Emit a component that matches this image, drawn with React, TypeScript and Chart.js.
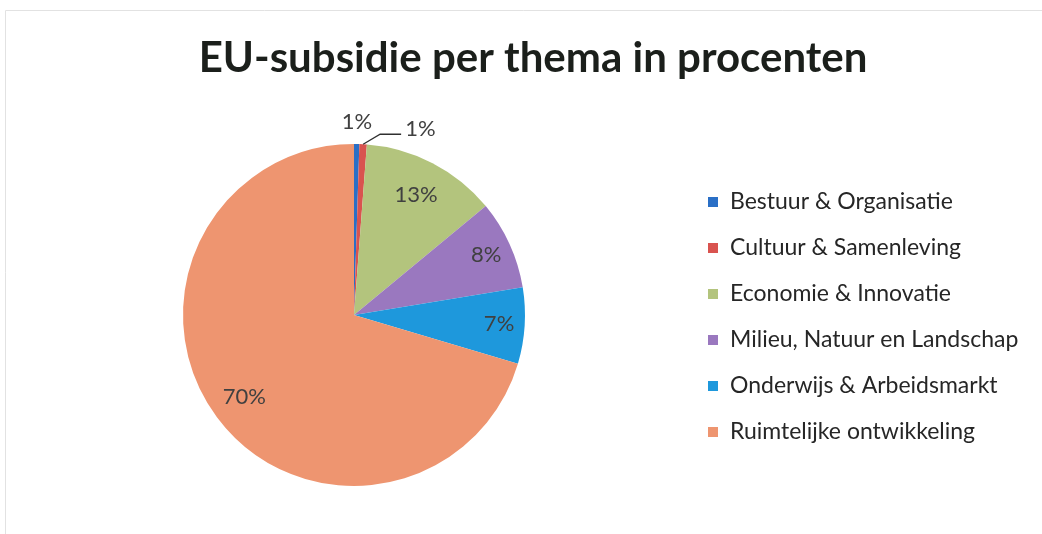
import React, { useEffect, useRef } from "react";
import { Chart, registerables } from "chart.js";

Chart.register(...registerables);

const TITLE = "EU-subsidie per thema in procenten";
const categories = [
  "Bestuur & Organisatie",
  "Cultuur & Samenleving",
  "Economie & Innovatie",
  "Milieu, Natuur en Landschap",
  "Onderwijs & Arbeidsmarkt",
  "Ruimtelijke ontwikkeling",
];
const values = [0.5, 0.7, 12.8, 8.4, 7.2, 70.4];
const colors = ["#2A6FC6", "#D9534F", "#B3C47D", "#9A78BF", "#1E98DC", "#EE9570"];

const FONT = "Lato, 'Open Sans', sans-serif";
// label placement style: 'above' = outside above arc, 'leader' = outside with leader line, number = inside radius factor
const placement: (string | number)[] = ["above", "leader", 0.79, 0.85, 0.85, 0.8];

const decorPlugin = {
  id: "decor",
  beforeDraw(chart: any) {
    const ctx = chart.ctx;
    ctx.save();
    ctx.strokeStyle = "#e2e2e2";
    ctx.lineWidth = 1;
    ctx.beginPath();
    ctx.moveTo(5.5, 534);
    ctx.lineTo(5.5, 10.5);
    ctx.lineTo(1042, 10.5);
    ctx.stroke();
    ctx.restore();
  },
  afterDraw(chart: any) {
    const ctx = chart.ctx;
    const meta = chart.getDatasetMeta(0);
    const data = chart.data.datasets[0].data as number[];
    const total = data.reduce((a: number, b: number) => a + b, 0);
    ctx.save();
    // title
    ctx.fillStyle = "#1b1f1b";
    ctx.font = `bold 42px ${FONT}`;
    ctx.textAlign = "center";
    ctx.textBaseline = "middle";
    ctx.fillText(TITLE, 533, 58);

    // data labels
    ctx.font = `22px ${FONT}`;
    ctx.fillStyle = "#404040";
    meta.data.forEach((arc: any, i: number) => {
      const p = arc.getProps(["x", "y", "startAngle", "endAngle", "outerRadius"], true);
      const mid = (p.startAngle + p.endAngle) / 2;
      const R = p.outerRadius;
      const txt = Math.round((data[i] / total) * 100) + "%";
      const pl = placement[i];
      if (pl === "above") {
        const r = R + 22;
        ctx.textAlign = "center";
        ctx.fillText(txt, p.x + Math.cos(mid) * r, p.y + Math.sin(mid) * r);
      } else if (pl === "leader") {
        const ex = p.x + Math.cos(mid) * R;
        const ey = p.y + Math.sin(mid) * R;
        const bx = ex + 17;
        const by = ey - 10;
        ctx.strokeStyle = "#303030";
        ctx.lineWidth = 1.3;
        ctx.beginPath();
        ctx.moveTo(ex, ey);
        ctx.lineTo(bx, by);
        ctx.lineTo(bx + 21, by);
        ctx.stroke();
        ctx.textAlign = "left";
        ctx.fillText(txt, bx + 25, by - 5);
      } else {
        const r = R * (pl as number);
        ctx.textAlign = "center";
        ctx.fillText(txt, p.x + Math.cos(mid) * r, p.y + Math.sin(mid) * r);
      }
    });

    // legend
    ctx.font = `23px ${FONT}`;
    ctx.textAlign = "left";
    chart.data.labels.forEach((lab: string, i: number) => {
      const y = 202 + i * 46;
      ctx.fillStyle = colors[i];
      ctx.fillRect(708, y - 5, 10, 10);
      ctx.fillStyle = "#262626";
      ctx.fillText(lab, 730, y);
    });
    ctx.restore();
  },
};

export default function App() {
  const ref = useRef<HTMLCanvasElement>(null);
  useEffect(() => {
    const chart = new Chart(ref.current!, {
      type: "pie",
      data: {
        labels: categories,
        datasets: [
          {
            data: values,
            backgroundColor: colors,
            borderWidth: 0,
          },
        ],
      },
      options: {
        animation: false,
        responsive: true,
        maintainAspectRatio: false,
        layout: { padding: { left: 183, right: 517, top: 144, bottom: 48 } },
        plugins: {
          legend: { display: false },
          tooltip: { enabled: false },
          title: { display: false },
        },
      },
      plugins: [decorPlugin],
    });
    return () => chart.destroy();
  }, []);
  return (
    <div style={{ position: "fixed", left: 0, top: 0, width: 1042, height: 534, background: "#fff" }}>
      <canvas ref={ref} />
    </div>
  );
}
